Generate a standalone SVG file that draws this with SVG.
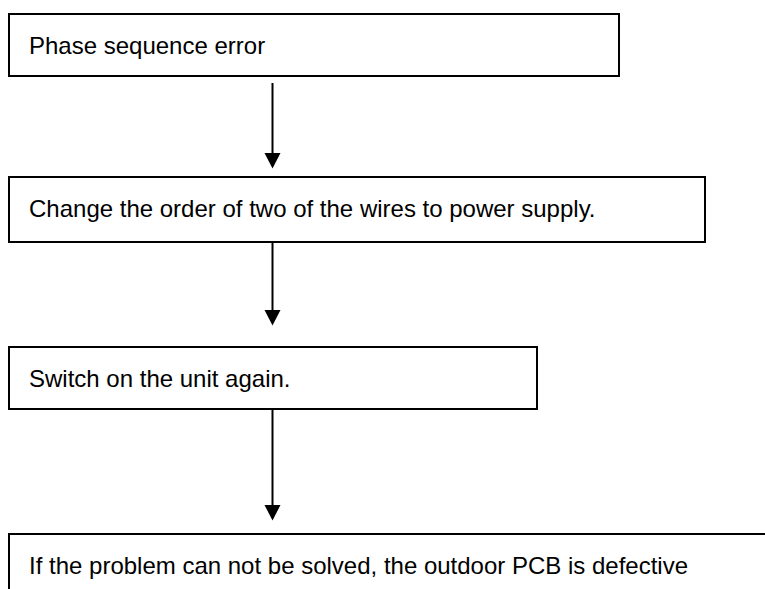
<svg xmlns="http://www.w3.org/2000/svg" width="765" height="589" viewBox="0 0 765 589">
  <style>
    .box { fill: #fff; stroke: #000; stroke-width: 2; }
    .label { font-family: "Liberation Sans", Arial, sans-serif; font-size: 24px; fill: #000; }
    .link { stroke: #000; stroke-width: 2; fill: none; }
    .head { fill: #000; }
  </style>
  <rect width="765" height="589" fill="#fff"/>

  <g id="connectors">
    <line class="link" x1="272.5" y1="83" x2="272.5" y2="154"/>
    <polygon class="head" points="264.5,153 280.5,153 272.5,168.5"/>
    <line class="link" x1="272.5" y1="242" x2="272.5" y2="311"/>
    <polygon class="head" points="264.5,310 280.5,310 272.5,325.5"/>
    <line class="link" x1="272.5" y1="409" x2="272.5" y2="506"/>
    <polygon class="head" points="264.5,505 280.5,505 272.5,520.5"/>
  </g>

  <g id="node-phase-error">
    <rect class="box" x="9" y="14" width="610" height="62"/>
    <text class="label" x="29" y="54">Phase sequence error</text>
  </g>

  <g id="node-swap-wires">
    <rect class="box" x="9" y="177" width="696" height="65"/>
    <text class="label" x="29" y="217">Change the order of two of the wires to power supply.</text>
  </g>

  <g id="node-switch-on">
    <rect class="box" x="9" y="347" width="528" height="62"/>
    <text class="label" x="29" y="387">Switch on the unit again.</text>
  </g>

  <g id="node-pcb-defective">
    <rect class="box" x="9" y="534" width="780" height="80"/>
    <text class="label" x="29" y="574">If the problem can not be solved, the outdoor PCB is defective</text>
  </g>
</svg>
